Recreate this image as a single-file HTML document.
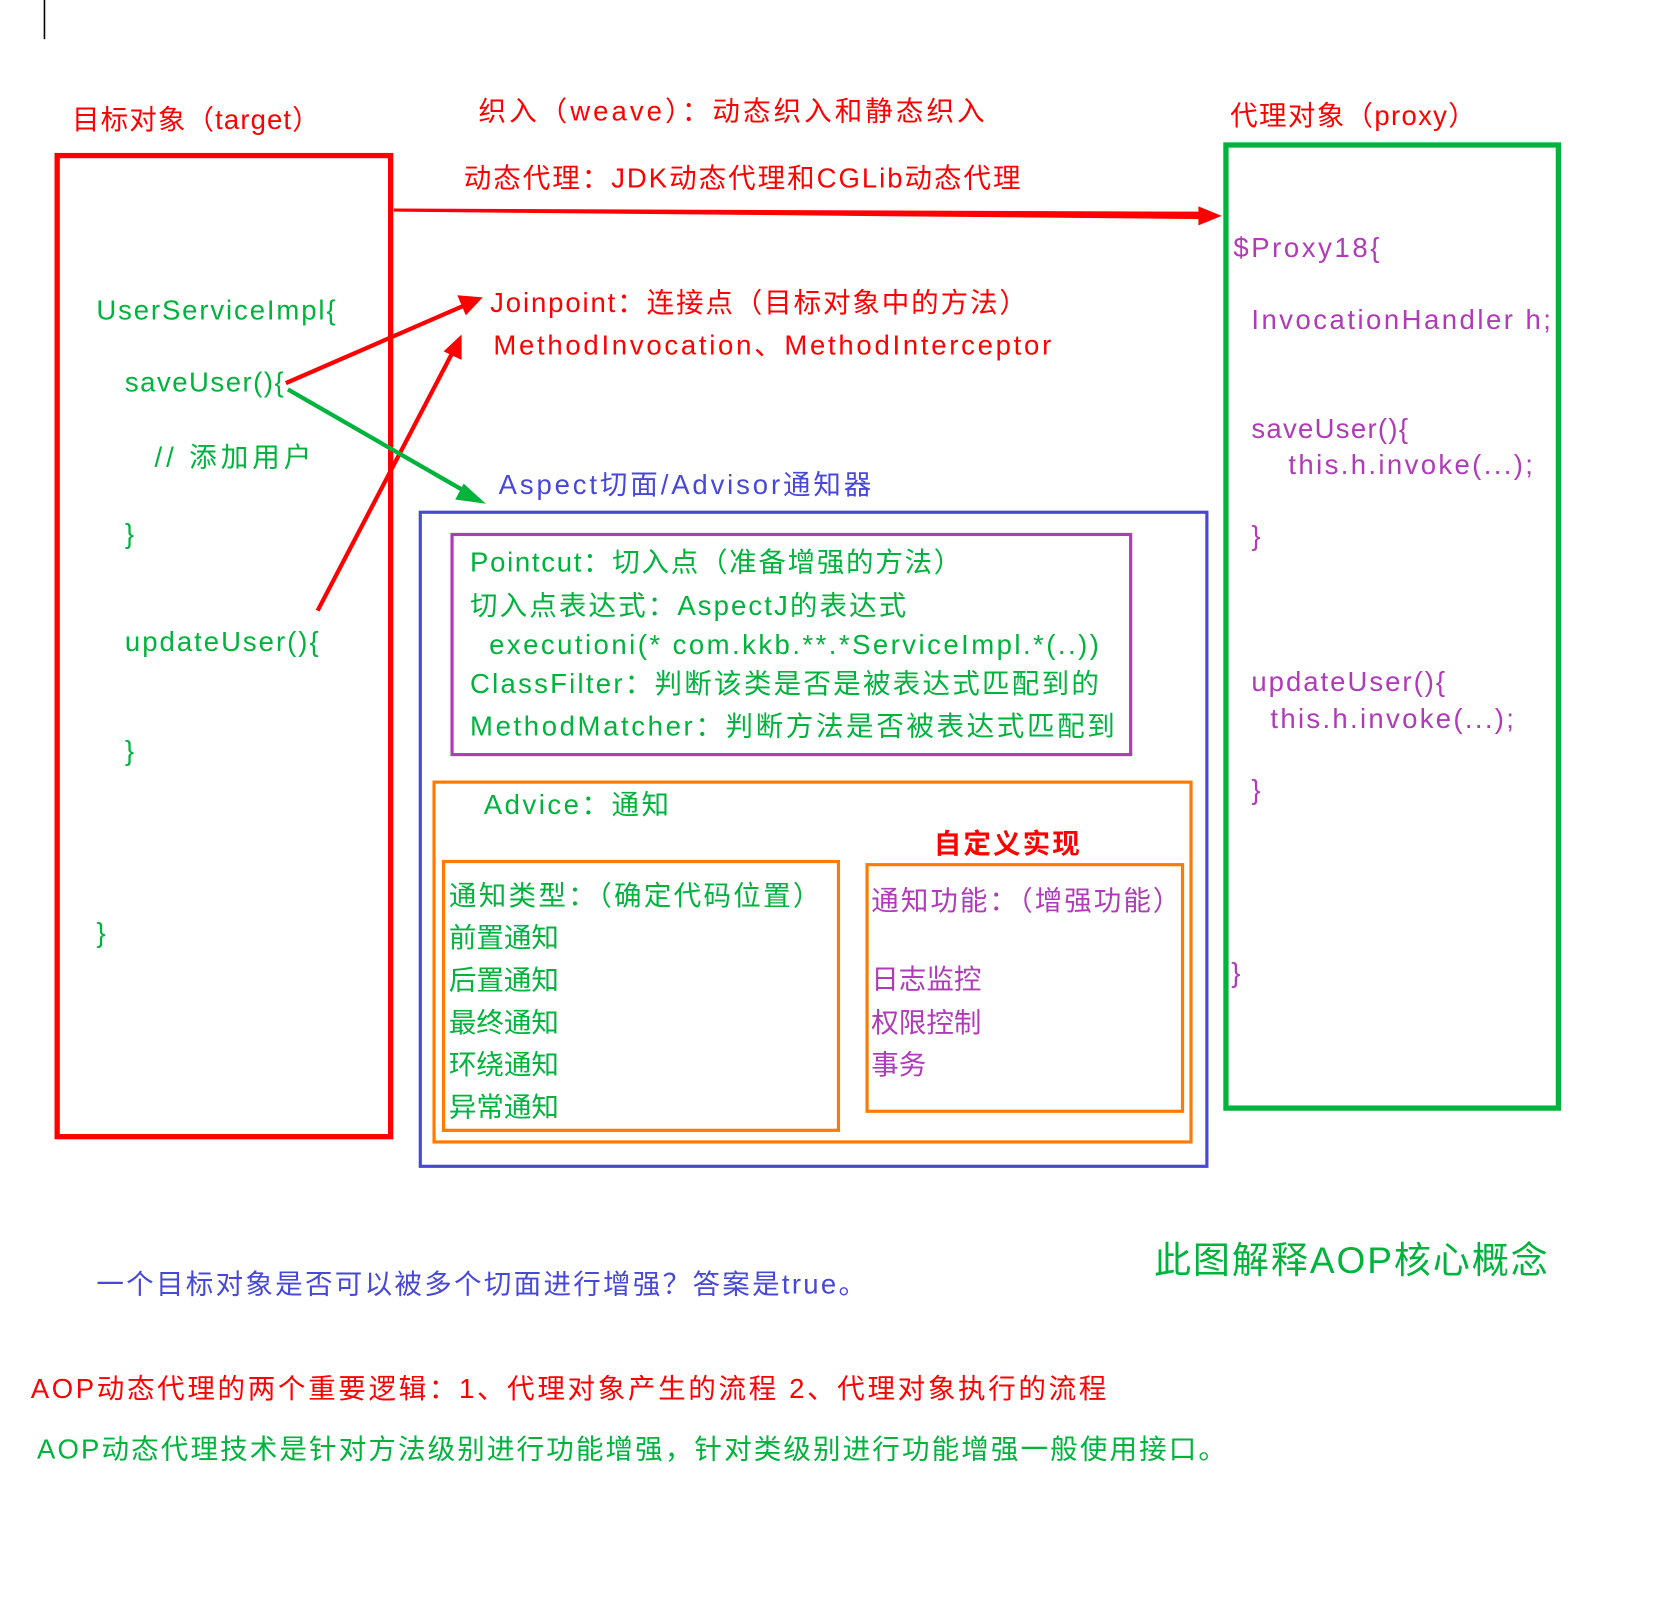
<!DOCTYPE html>
<html><head><meta charset="utf-8"><style>
html,body{margin:0;padding:0;background:#fff;}
svg{display:block;}
text{font-family:"Liberation Sans","Noto Sans CJK SC",sans-serif;font-size:26px;}
.r{fill:#ff0000}.g{fill:#00b33c}.p{fill:#b03ab8}.b{fill:#4848d8}
</style></head><body>
<svg width="1660" height="1614" viewBox="0 0 1568 1525" preserveAspectRatio="none" xmlns="http://www.w3.org/2000/svg">
<line x1="42" y1="0" x2="42" y2="37" stroke="#000" stroke-width="1.5"/>
<rect x="54" y="147" width="315" height="927" fill="none" stroke="#ff0000" stroke-width="5"/>
<rect x="1158" y="137" width="314" height="910" fill="none" stroke="#00b33c" stroke-width="5"/>
<rect x="397" y="484" width="743" height="618" fill="none" stroke="#4848d8" stroke-width="3"/>
<rect x="427" y="505" width="641" height="208" fill="none" stroke="#b03ab8" stroke-width="3"/>
<rect x="410" y="739" width="715" height="340" fill="none" stroke="#ff7a00" stroke-width="3"/>
<rect x="419" y="814" width="373" height="254" fill="none" stroke="#ff7a00" stroke-width="3"/>
<rect x="819" y="817" width="298" height="233" fill="none" stroke="#ff7a00" stroke-width="3"/>
<polygon points="372,197 1135,200 1135,207 372,200" fill="#ff0000"/>
<polygon points="1154,204 1132,195 1132,213" fill="#ff0000"/>
<line x1="270" y1="362" x2="440" y2="288" stroke="#ff0000" stroke-width="4"/>
<polygon points="456,281 432,279 440,298" fill="#ff0000"/>
<line x1="300" y1="577" x2="428" y2="332" stroke="#ff0000" stroke-width="4"/>
<polygon points="436,316 419,332 436,340" fill="#ff0000"/>
<line x1="272" y1="368" x2="444" y2="467" stroke="#00b33c" stroke-width="4"/>
<polygon points="459,476 438,457 430,472" fill="#00b33c"/>
<text class="r" x="68" y="122" textLength="234">目标对象（target）</text>
<text class="r" x="452" y="114" textLength="478">织入（weave）：动态织入和静态织入</text>
<text class="r" x="438" y="177" textLength="526">动态代理：JDK动态代理和CGLib动态代理</text>
<text class="r" x="1162" y="118" textLength="232">代理对象（proxy）</text>
<text class="p" x="1165" y="243" textLength="138">$Proxy18{</text>
<text class="p" x="1182" y="311" textLength="283">InvocationHandler h;</text>
<text class="p" x="1182" y="414" textLength="148">saveUser(){</text>
<text class="p" x="1217" y="448" textLength="231">this.h.invoke(...);</text>
<text class="p" x="1182" y="515">}</text>
<text class="p" x="1182" y="653" textLength="183">updateUser(){</text>
<text class="p" x="1200" y="688" textLength="230">this.h.invoke(...);</text>
<text class="p" x="1182" y="755">}</text>
<text class="p" x="1163" y="928">}</text>
<text class="g" x="91" y="302" textLength="226">UserServiceImpl{</text>
<text class="g" x="118" y="370" textLength="150">saveUser(){</text>
<text class="g" x="146" y="441" textLength="148">// 添加用户</text>
<text class="g" x="118" y="513">}</text>
<text class="g" x="118" y="615" textLength="183">updateUser(){</text>
<text class="g" x="118" y="718">}</text>
<text class="g" x="91" y="890">}</text>
<text class="r" x="463" y="295" textLength="507">Joinpoint：连接点（目标对象中的方法）</text>
<text class="r" x="466" y="335" textLength="527">MethodInvocation、MethodInterceptor</text>
<text class="b" x="471" y="467" textLength="352">Aspect切面/Advisor通知器</text>
<text class="g" x="444" y="540" textLength="464">Pointcut：切入点（准备增强的方法）</text>
<text class="g" x="444" y="581" textLength="412">切入点表达式：AspectJ的表达式</text>
<text class="g" x="462" y="618" textLength="576">executioni(* com.kkb.**.*ServiceImpl.*(..))</text>
<text class="g" x="444" y="655" textLength="594">ClassFilter：判断该类是否是被表达式匹配到的</text>
<text class="g" x="444" y="695" textLength="609">MethodMatcher：判断方法是否被表达式匹配到</text>
<text class="g" x="457" y="769" textLength="175">Advice：通知</text>
<text class="r" x="882" y="806" textLength="138" style="font-weight:bold">自定义实现</text>
<text class="g" x="424" y="855" textLength="351">通知类型：（确定代码位置）</text>
<text class="g" x="424" y="895">前置通知</text>
<text class="g" x="424" y="935">后置通知</text>
<text class="g" x="424" y="975">最终通知</text>
<text class="g" x="424" y="1015">环绕通知</text>
<text class="g" x="424" y="1055">异常通知</text>
<text class="p" x="823" y="860" textLength="292">通知功能：（增强功能）</text>
<text class="p" x="823" y="934">日志监控</text>
<text class="p" x="823" y="975">权限控制</text>
<text class="p" x="823" y="1015">事务</text>
<text class="b" x="91" y="1222" textLength="727">一个目标对象是否可以被多个切面进行增强？答案是true。</text>
<text class="g" x="1090" y="1203" textLength="372" style="font-size:35px">此图解释AOP核心概念</text>
<text class="r" x="29" y="1321" textLength="1016">AOP动态代理的两个重要逻辑：1、代理对象产生的流程  2、代理对象执行的流程</text>
<text class="g" x="35" y="1378" textLength="1123">AOP动态代理技术是针对方法级别进行功能增强，针对类级别进行功能增强一般使用接口。</text>
</svg>
</body></html>
